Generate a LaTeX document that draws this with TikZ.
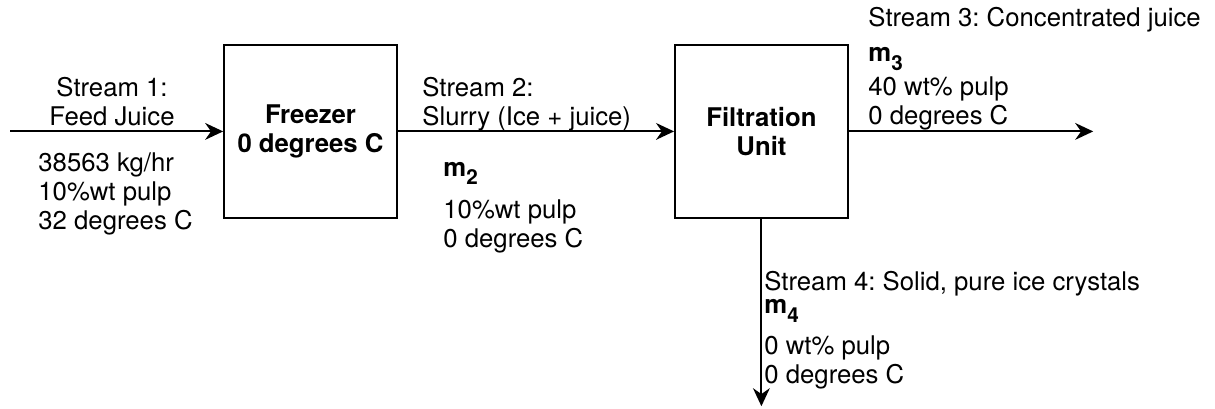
\documentclass[tikz,border=0pt]{standalone}
\usepackage{fontspec}
\setmainfont{TeX Gyre Heros}
\usepackage{tikz}
\usetikzlibrary{arrows.meta,positioning}
\frenchspacing

% bold mass flow symbol with a lowered index
\newcommand{\mflow}[1]{\textbf{m}\raisebox{-4pt}{\fontsize{9.8}{10}\selectfont\textbf{#1}}}

\begin{document}
\begin{tikzpicture}[every node/.style={font=\fontsize{12.2}{13.8}\selectfont},
  unit/.style={draw, line width=0.9pt, minimum width=2.88cm, minimum height=2.88cm, inner sep=0pt, align=center, font=\fontsize{12.2}{13.8}\selectfont\bfseries},
  flow/.style={line width=0.9pt, -{Stealth[length=3mm, width=2.8mm]}},
  lbl/.style={inner sep=0pt, align=left, anchor=north west}]
\useasboundingbox (0,0) rectangle (20.25,-6.8);
\node[unit] (freezer) at (5.175,-2.19) {Freezer\\0 degrees C};
\node[unit] (filter)  at (12.69,-2.19) {Filtration\\Unit};
\coordinate (feed) at (0.167,-2.19);
\coordinate (conc) at (18.22,-2.19);
\coordinate (ice)  at (12.69,-6.77);
\draw[flow] (feed) -- (freezer);
\draw[flow] (freezer) -- (filter);
\draw[flow] (filter) -- (conc);
\draw[flow] (filter) -- (ice);
% Stream labels
\node[lbl, anchor=north, align=center] (s1name) at (1.867,-1.283) {Stream 1:\\Feed Juice};
\node[lbl] (s1data) at (0.633,-2.533) {38563 kg/hr\\10\%wt pulp\\32 degrees C};
\node[lbl] (s2name) at (7.033,-1.283) {Stream 2:\\Slurry (Ice + juice)};
\node[lbl] (s2data) at (7.383,-2.7) {\mflow{2}\\[0.22cm]10\%wt pulp\\0 degrees C};
\node[lbl] (s3data) at (14.467,-0.117) {Stream 3: Concentrated juice\\[0.1cm]\mflow{3}\\[0.07cm]40 wt\% pulp\\0 degrees C};
\node[lbl] (s4data) at (12.733,-4.517) {Stream 4: Solid, pure ice crystals\\[-0.1cm]\mflow{4}\\[0.2cm]0 wt\% pulp\\0 degrees C};
\end{tikzpicture}
\end{document}
